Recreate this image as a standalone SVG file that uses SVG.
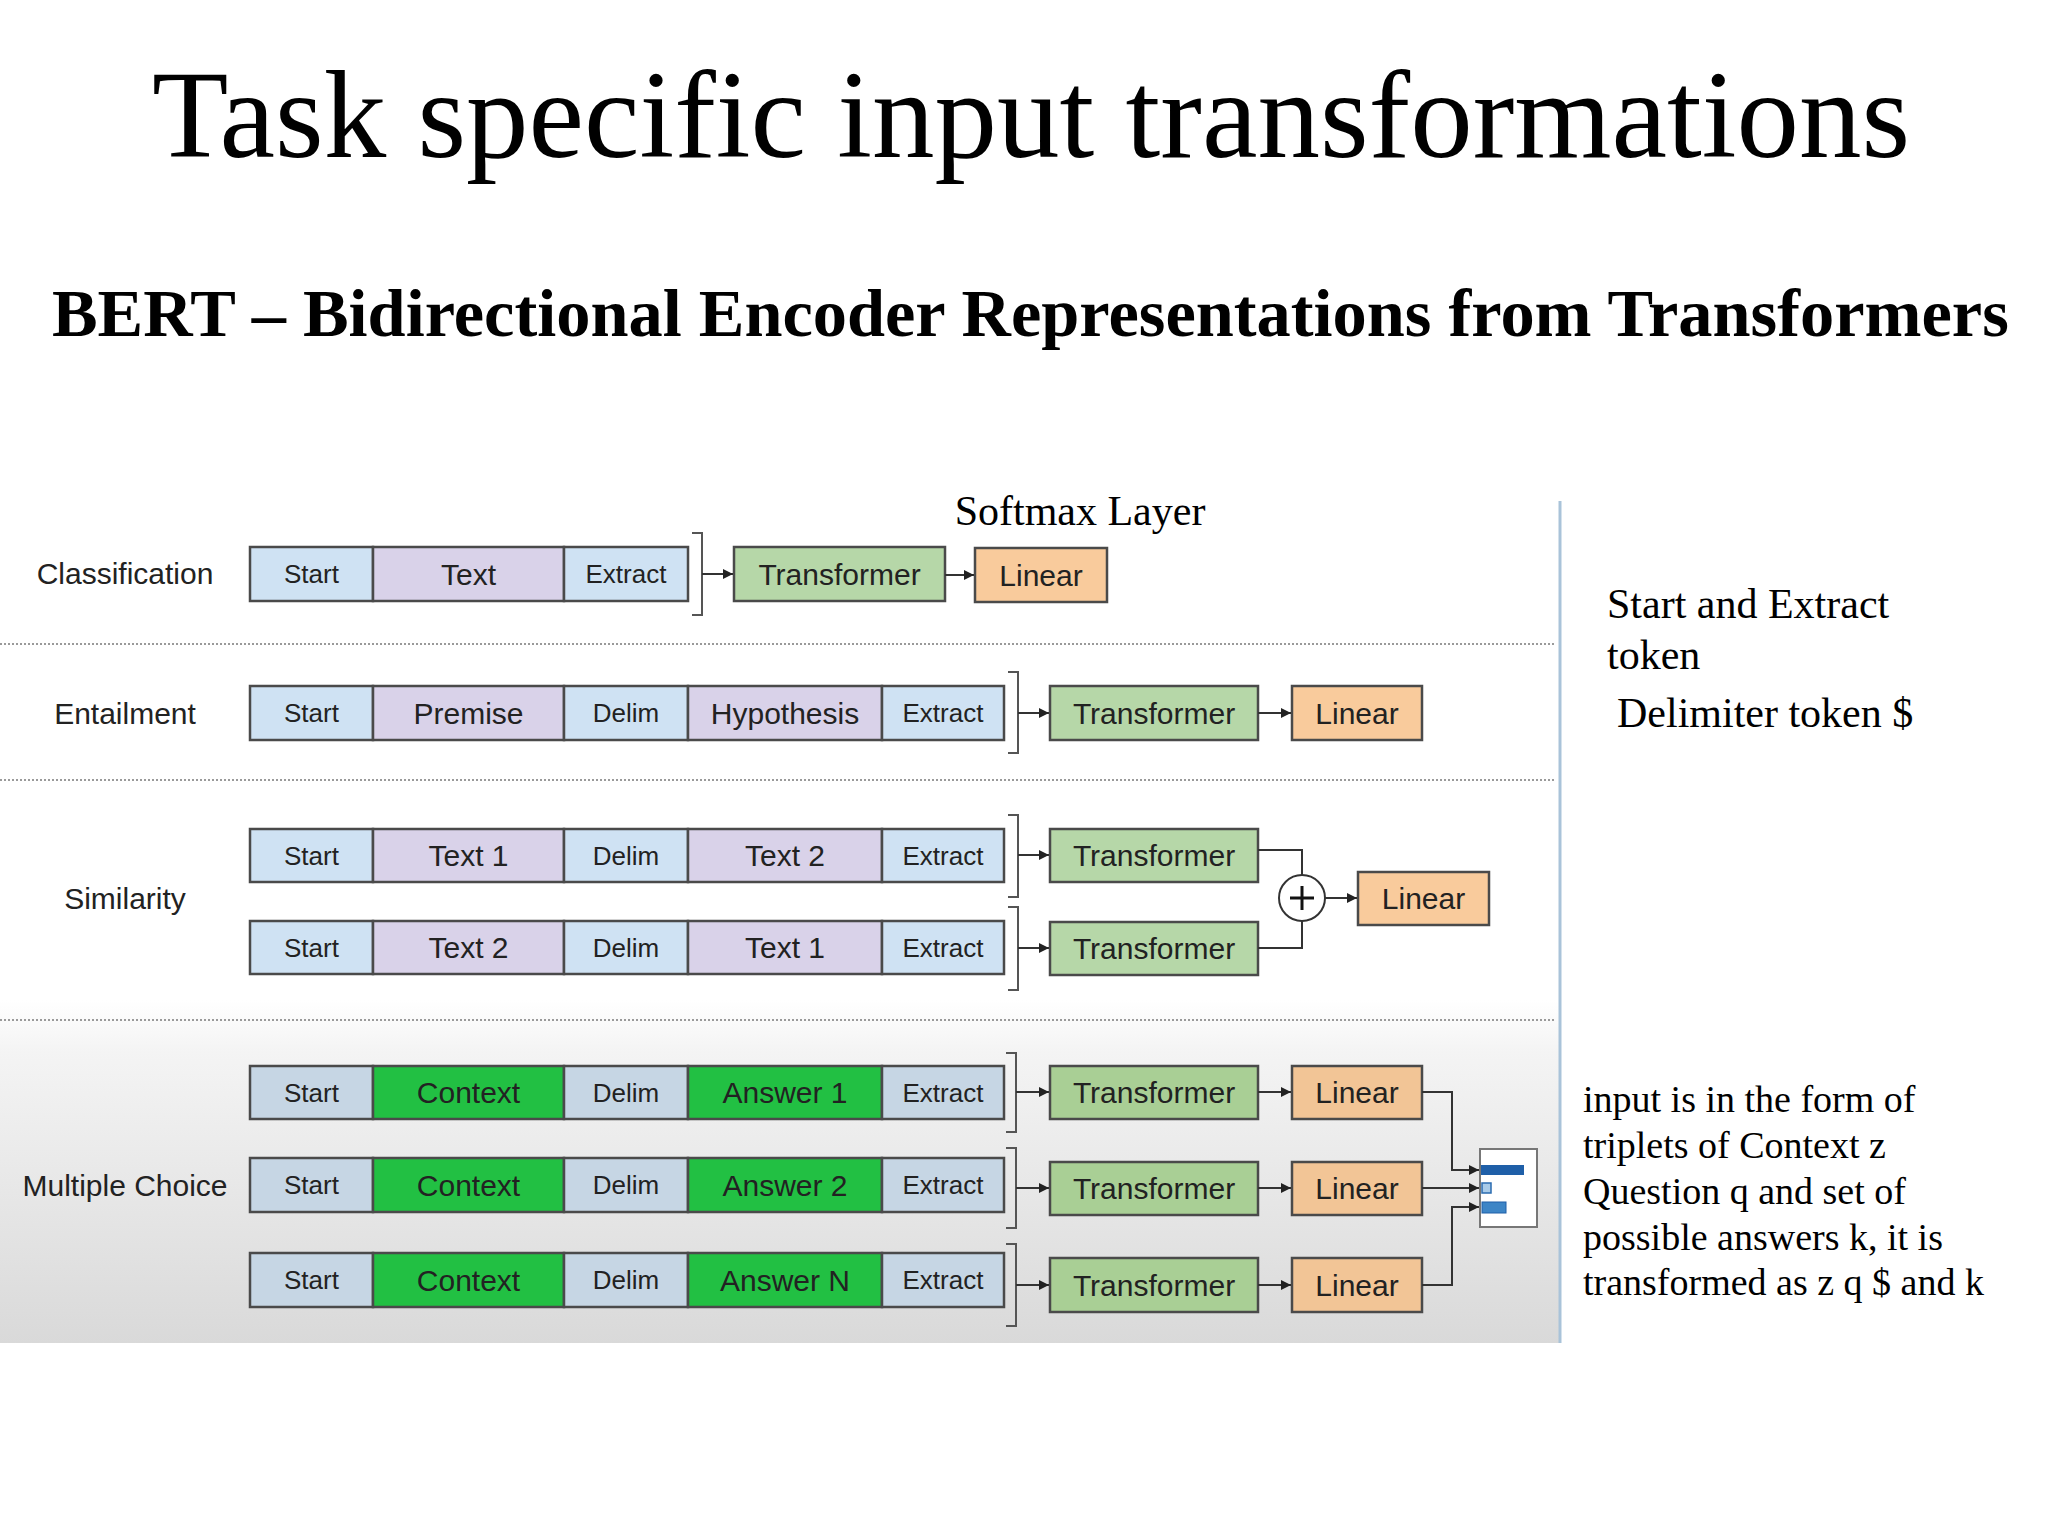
<svg xmlns="http://www.w3.org/2000/svg" width="2048" height="1536" viewBox="0 0 2048 1536">
<style>
.serif{font-family:"Liberation Serif","Times New Roman",serif;fill:#000}
.lbl{font-family:"Liberation Sans",Arial,sans-serif;font-size:30px;fill:#222;text-anchor:middle}
.sm{font-family:"Liberation Sans",Arial,sans-serif;font-size:26px;fill:#222;text-anchor:middle}
.bx{stroke:#4a4a4a;stroke-width:2.5}
.blue{fill:#cfe2f3}
.blue2{fill:#c6d6e4}
.purple{fill:#d9d2e9}
.green{fill:#b6d7a8}
.green2{fill:#a9cf95}
.bright{fill:#22c043}
.orange{fill:#f9cb9c}
.orange2{fill:#f2c596}
.conn{fill:none;stroke:#333;stroke-width:2}
.brk{fill:none;stroke:#555;stroke-width:2}
.sep{stroke:#9a9a9a;stroke-width:2;stroke-dasharray:2 2}
</style>
<defs>
<marker id="ah" viewBox="0 0 10 10" refX="10" refY="5" markerWidth="13" markerHeight="10" markerUnits="userSpaceOnUse" orient="auto"><path d="M0,0 L10,5 L0,10 z" fill="#222"/></marker>
<linearGradient id="bg" x1="0" y1="0" x2="0" y2="1"><stop offset="0" stop-color="#ffffff"/><stop offset="0.15" stop-color="#f4f4f4"/><stop offset="1" stop-color="#d9d9d9"/></linearGradient>
</defs>
<rect width="2048" height="1536" fill="#fff"/>
<rect x="0" y="1000" width="1559" height="343" fill="url(#bg)"/>

<text class="serif" x="1031" y="157" font-size="125" text-anchor="middle">Task specific input transformations</text>
<text class="serif" x="52" y="336" font-size="68.4" font-weight="bold">BERT – Bidirectional Encoder Representations from Transformers</text>

<g id="separators">
<line class="sep" x1="0" y1="644" x2="1556" y2="644"/>
<line class="sep" x1="0" y1="780" x2="1556" y2="780"/>
<line class="sep" x1="0" y1="1020" x2="1556" y2="1020"/>
<line x1="1560" y1="501" x2="1560" y2="1343" stroke="#a9c3d9" stroke-width="3"/>
</g>

<g id="labels">
<text class="lbl" x="125" y="584" font-size="31">Classification</text>
<text class="lbl" x="125" y="724">Entailment</text>
<text class="lbl" x="125" y="909">Similarity</text>
<text class="lbl" x="125" y="1196">Multiple Choice</text>
<text class="serif" x="1080" y="525" font-size="42" text-anchor="middle">Softmax Layer</text>
</g>

<!-- Classification -->
<g id="cls-start"><rect class="bx blue" x="250" y="547" width="123" height="54"/><text class="sm" x="311.5" y="583">Start</text></g>
<g id="cls-text"><rect class="bx purple" x="373" y="547" width="191" height="54"/><text class="lbl" x="468.5" y="585">Text</text></g>
<g id="cls-extract"><rect class="bx blue" x="564" y="547" width="124" height="54"/><text class="sm" x="626" y="583">Extract</text></g>
<g id="cls-transformer"><rect class="bx green" x="734" y="547" width="211" height="54"/><text class="lbl" x="839.5" y="585">Transformer</text></g>
<g id="cls-linear"><rect class="bx orange" x="975" y="548" width="132" height="54"/><text class="lbl" x="1041" y="586">Linear</text></g>

<!-- Entailment -->
<g id="ent-start"><rect class="bx blue" x="250" y="686" width="123" height="54"/><text class="sm" x="311.5" y="722">Start</text></g>
<g id="ent-premise"><rect class="bx purple" x="373" y="686" width="191" height="54"/><text class="lbl" x="468.5" y="724">Premise</text></g>
<g id="ent-delim"><rect class="bx blue" x="564" y="686" width="124" height="54"/><text class="sm" x="626" y="722">Delim</text></g>
<g id="ent-hypothesis"><rect class="bx purple" x="688" y="686" width="194" height="54"/><text class="lbl" x="785" y="724">Hypothesis</text></g>
<g id="ent-extract"><rect class="bx blue" x="882" y="686" width="122" height="54"/><text class="sm" x="943" y="722">Extract</text></g>
<g id="ent-transformer"><rect class="bx green" x="1050" y="686" width="208" height="54"/><text class="lbl" x="1154" y="724">Transformer</text></g>
<g id="ent-linear"><rect class="bx orange" x="1292" y="686" width="130" height="54"/><text class="lbl" x="1357" y="724">Linear</text></g>

<!-- Similarity row 1 -->
<g id="sim1-start"><rect class="bx blue" x="250" y="829" width="123" height="53"/><text class="sm" x="311.5" y="864.5">Start</text></g>
<g id="sim1-text1"><rect class="bx purple" x="373" y="829" width="191" height="53"/><text class="lbl" x="468.5" y="866">Text 1</text></g>
<g id="sim1-delim"><rect class="bx blue" x="564" y="829" width="124" height="53"/><text class="sm" x="626" y="864.5">Delim</text></g>
<g id="sim1-text2"><rect class="bx purple" x="688" y="829" width="194" height="53"/><text class="lbl" x="785" y="866">Text 2</text></g>
<g id="sim1-extract"><rect class="bx blue" x="882" y="829" width="122" height="53"/><text class="sm" x="943" y="864.5">Extract</text></g>
<g id="sim1-transformer"><rect class="bx green" x="1050" y="829" width="208" height="53"/><text class="lbl" x="1154" y="866">Transformer</text></g>
<!-- Similarity row 2 -->
<g id="sim2-start"><rect class="bx blue" x="250" y="921" width="123" height="53"/><text class="sm" x="311.5" y="956.5">Start</text></g>
<g id="sim2-text2"><rect class="bx purple" x="373" y="921" width="191" height="53"/><text class="lbl" x="468.5" y="958">Text 2</text></g>
<g id="sim2-delim"><rect class="bx blue" x="564" y="921" width="124" height="53"/><text class="sm" x="626" y="956.5">Delim</text></g>
<g id="sim2-text1"><rect class="bx purple" x="688" y="921" width="194" height="53"/><text class="lbl" x="785" y="958">Text 1</text></g>
<g id="sim2-extract"><rect class="bx blue" x="882" y="921" width="122" height="53"/><text class="sm" x="943" y="956.5">Extract</text></g>
<g id="sim2-transformer"><rect class="bx green" x="1050" y="922" width="208" height="53"/><text class="lbl" x="1154" y="959">Transformer</text></g>
<g id="sim-plus"><circle cx="1302" cy="898" r="23" fill="#fff" stroke="#333" stroke-width="2"/><line x1="1290" y1="898" x2="1314" y2="898" stroke="#111" stroke-width="3"/><line x1="1302" y1="886" x2="1302" y2="910" stroke="#111" stroke-width="3"/></g>
<g id="sim-linear"><rect class="bx orange" x="1358" y="872" width="131" height="53"/><text class="lbl" x="1423.5" y="909">Linear</text></g>

<!-- Multiple choice -->
<g id="mc1-start"><rect class="bx blue2" x="250" y="1066" width="123" height="53"/><text class="sm" x="311.5" y="1101.5">Start</text></g>
<g id="mc1-context"><rect class="bx bright" x="373" y="1066" width="191" height="53"/><text class="lbl" x="468.5" y="1103">Context</text></g>
<g id="mc1-delim"><rect class="bx blue2" x="564" y="1066" width="124" height="53"/><text class="sm" x="626" y="1101.5">Delim</text></g>
<g id="mc1-answer"><rect class="bx bright" x="688" y="1066" width="194" height="53"/><text class="lbl" x="785" y="1103">Answer 1</text></g>
<g id="mc1-extract"><rect class="bx blue2" x="882" y="1066" width="122" height="53"/><text class="sm" x="943" y="1101.5">Extract</text></g>
<g id="mc1-transformer"><rect class="bx green2" x="1050" y="1066" width="208" height="53"/><text class="lbl" x="1154" y="1103">Transformer</text></g>
<g id="mc1-linear"><rect class="bx orange2" x="1292" y="1066" width="130" height="53"/><text class="lbl" x="1357" y="1103">Linear</text></g>

<g id="mc2-start"><rect class="bx blue2" x="250" y="1158" width="123" height="54"/><text class="sm" x="311.5" y="1194">Start</text></g>
<g id="mc2-context"><rect class="bx bright" x="373" y="1158" width="191" height="54"/><text class="lbl" x="468.5" y="1195.5">Context</text></g>
<g id="mc2-delim"><rect class="bx blue2" x="564" y="1158" width="124" height="54"/><text class="sm" x="626" y="1194">Delim</text></g>
<g id="mc2-answer"><rect class="bx bright" x="688" y="1158" width="194" height="54"/><text class="lbl" x="785" y="1195.5">Answer 2</text></g>
<g id="mc2-extract"><rect class="bx blue2" x="882" y="1158" width="122" height="54"/><text class="sm" x="943" y="1194">Extract</text></g>
<g id="mc2-transformer"><rect class="bx green2" x="1050" y="1162" width="208" height="53"/><text class="lbl" x="1154" y="1199">Transformer</text></g>
<g id="mc2-linear"><rect class="bx orange2" x="1292" y="1162" width="130" height="53"/><text class="lbl" x="1357" y="1199">Linear</text></g>

<g id="mc3-start"><rect class="bx blue2" x="250" y="1253" width="123" height="54"/><text class="sm" x="311.5" y="1289">Start</text></g>
<g id="mc3-context"><rect class="bx bright" x="373" y="1253" width="191" height="54"/><text class="lbl" x="468.5" y="1290.5">Context</text></g>
<g id="mc3-delim"><rect class="bx blue2" x="564" y="1253" width="124" height="54"/><text class="sm" x="626" y="1289">Delim</text></g>
<g id="mc3-answer"><rect class="bx bright" x="688" y="1253" width="194" height="54"/><text class="lbl" x="785" y="1290.5">Answer N</text></g>
<g id="mc3-extract"><rect class="bx blue2" x="882" y="1253" width="122" height="54"/><text class="sm" x="943" y="1289">Extract</text></g>
<g id="mc3-transformer"><rect class="bx green2" x="1050" y="1258" width="208" height="54"/><text class="lbl" x="1154" y="1295.5">Transformer</text></g>
<g id="mc3-linear"><rect class="bx orange2" x="1292" y="1258" width="130" height="54"/><text class="lbl" x="1357" y="1295.5">Linear</text></g>

<g id="mc-output">
<rect x="1480" y="1149" width="57" height="78" fill="#fff" stroke="#777" stroke-width="2"/>
<rect x="1481" y="1165" width="43" height="10" fill="#1f5fa8"/>
<rect x="1482" y="1183" width="9" height="10" fill="#a9cbe8" stroke="#2a6bb0" stroke-width="1.5"/>
<rect x="1482" y="1202" width="24" height="11" fill="#3d85c6" stroke="#1f5fa8" stroke-width="1"/>
</g>

<g id="connectors">
<path class="brk" d="M692,533 H702 V615 H692"/>
<path class="brk" d="M1008,672 H1018 V753 H1008"/>
<path class="brk" d="M1008,815 H1018 V897 H1008"/>
<path class="brk" d="M1008,907 H1018 V990 H1008"/>
<path class="brk" d="M1006,1053 H1016 V1132 H1006"/>
<path class="brk" d="M1006,1148 H1016 V1228 H1006"/>
<path class="brk" d="M1006,1244 H1016 V1326 H1006"/>
<line class="conn" x1="702" y1="574" x2="733" y2="574" marker-end="url(#ah)"/>
<line class="conn" x1="945" y1="575" x2="974" y2="575" marker-end="url(#ah)"/>
<line class="conn" x1="1018" y1="713" x2="1049" y2="713" marker-end="url(#ah)"/>
<line class="conn" x1="1258" y1="713" x2="1291" y2="713" marker-end="url(#ah)"/>
<line class="conn" x1="1018" y1="855" x2="1049" y2="855" marker-end="url(#ah)"/>
<line class="conn" x1="1018" y1="948" x2="1049" y2="948" marker-end="url(#ah)"/>
<path class="conn" d="M1258,850 H1302 V875"/>
<path class="conn" d="M1258,948 H1302 V921"/>
<line class="conn" x1="1325" y1="898" x2="1357" y2="898" marker-end="url(#ah)"/>
<line class="conn" x1="1016" y1="1092" x2="1049" y2="1092" marker-end="url(#ah)"/>
<line class="conn" x1="1258" y1="1092" x2="1291" y2="1092" marker-end="url(#ah)"/>
<line class="conn" x1="1016" y1="1188" x2="1049" y2="1188" marker-end="url(#ah)"/>
<line class="conn" x1="1258" y1="1188" x2="1291" y2="1188" marker-end="url(#ah)"/>
<line class="conn" x1="1016" y1="1285" x2="1049" y2="1285" marker-end="url(#ah)"/>
<line class="conn" x1="1258" y1="1285" x2="1291" y2="1285" marker-end="url(#ah)"/>
<path class="conn" d="M1422,1092 H1452 V1170 H1479" marker-end="url(#ah)"/>
<line class="conn" x1="1422" y1="1188" x2="1479" y2="1188" marker-end="url(#ah)"/>
<path class="conn" d="M1422,1285 H1452 V1207 H1479" marker-end="url(#ah)"/>
</g>

<g id="notes">
<text class="serif" x="1607" y="618" font-size="42">Start and Extract</text>
<text class="serif" x="1607" y="669" font-size="42">token</text>
<text class="serif" x="1617" y="727" font-size="42">Delimiter token $</text>
<text class="serif" x="1583" y="1112" font-size="38">input is in the form of</text>
<text class="serif" x="1583" y="1158" font-size="38">triplets of Context z</text>
<text class="serif" x="1583" y="1204" font-size="38">Question q and set of</text>
<text class="serif" x="1583" y="1250" font-size="38">possible answers k, it is</text>
<text class="serif" x="1583" y="1295" font-size="38">transformed as z q $ and k</text>
</g>
</svg>
